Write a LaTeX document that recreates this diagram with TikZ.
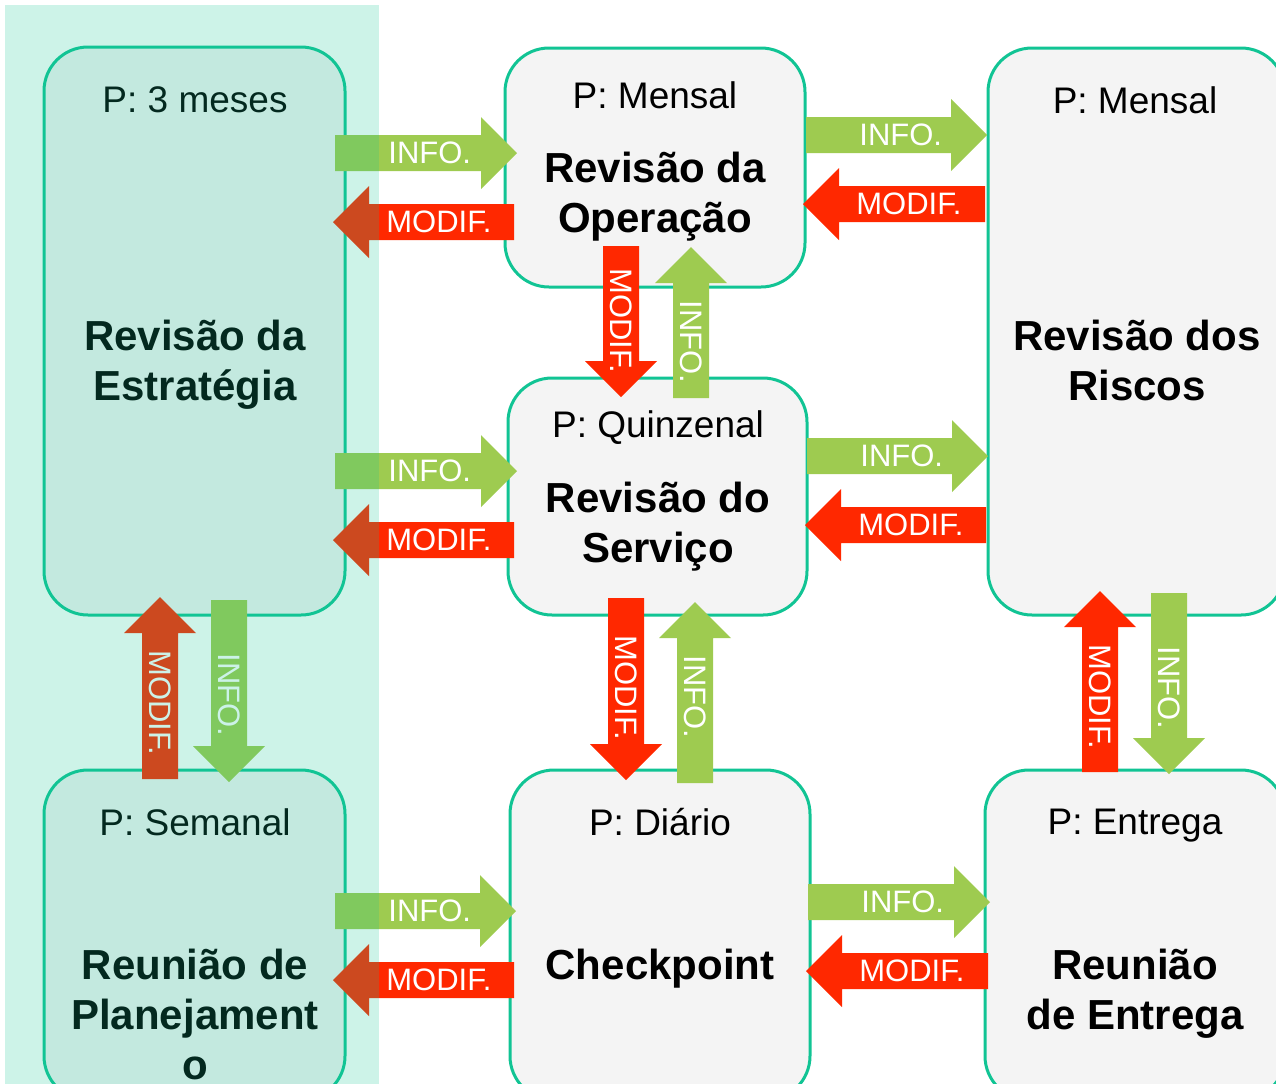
\documentclass[tikz,border=0pt]{standalone}
\usepackage{fontspec}
\setmainfont{Liberation Sans}
\usepackage{tikz}

\definecolor{tealline}{RGB}{17,196,148}
\definecolor{boxgray}{RGB}{244,244,244}
\definecolor{infogreen}{RGB}{158,203,80}
\definecolor{modifred}{RGB}{255,40,0}

\tikzset{
  meeting/.style={draw=tealline, line width=1.5pt, fill=boxgray, rounded corners=22pt, inner sep=0pt},
  period/.style={font=\fontsize{18.5}{22}\selectfont},
  title/.style={font=\bfseries\fontsize{21}{25}\selectfont, align=center},
  lbl/.style={text=white, inner sep=0pt, font=\fontsize{15.5}{18}\selectfont}
}

% horizontal block arrow: name, tail x, tip x, y, colour, text
\newcommand{\harrow}[6]{
  \pgfmathsetmacro{\arrdir}{(#3>#2)*2-1}
  \pgfmathsetmacro{\arrbase}{#3-\arrdir*36}
  \pgfmathsetmacro{\arrlbl}{min(#2,#3)+53}
  \fill[#5] (#2,#4-18) -- (\arrbase,#4-18) -- (\arrbase,#4-36) -- (#3,#4)
    -- (\arrbase,#4+36) -- (\arrbase,#4+18) -- (#2,#4+18) -- cycle;
  \node[lbl, anchor=west] (#1) at (\arrlbl,#4) {#6};
}
% vertical block arrow: [label offset] name, x, tail y, tip y, colour, text
\newcommand{\varrow}[7][53]{
  \pgfmathsetmacro{\arrdir}{(#5>#4)*2-1}
  \pgfmathsetmacro{\arrbase}{#5-\arrdir*36}
  \pgfmathsetmacro{\arrlbl}{min(#4,#5)+#1}
  \fill[#6] (#3-18,#4) -- (#3-18,\arrbase) -- (#3-36,\arrbase) -- (#3,#5)
    -- (#3+36,\arrbase) -- (#3+18,\arrbase) -- (#3+18,#4) -- cycle;
  \node[lbl, rotate=-90, anchor=west] (#2) at (#3,\arrlbl) {#7};
}

\begin{document}
\begin{tikzpicture}[x=0.5pt,y=-0.5pt]
\useasboundingbox (0,0) rectangle (1276,1083);
\clip (0,0) rectangle (1276,1083);
% meetings
\node[meeting, minimum width=150.5pt, minimum height=284pt] (est) at (194.5,331) {};
\node[meeting, minimum width=150pt, minimum height=119.5pt] (op) at (655,167.5) {};
\node[meeting, minimum width=148.5pt, minimum height=283.5pt] (risk) at (1136.5,331.5) {};
\node[meeting, minimum width=149.5pt, minimum height=118.5pt] (serv) at (657.5,496.5) {};
\node[meeting, minimum width=150.5pt, minimum height=165pt] (plan) at (194.5,935) {};
\node[meeting, minimum width=150pt, minimum height=165pt] (check) at (660,935) {};
\node[meeting, minimum width=150pt, minimum height=165pt] (ent) at (1135,935) {};
% texts
\node[period] (estP) at (195,100) {P: 3 meses};
\node[title] (estT) at (195,365) {Revisão da\\Estratégia};
\node[period] (opP) at (655,95) {P: Mensal};
\node[title] (opT) at (655,197) {Revisão da\\Operação};
\node[period] (riskP) at (1135,100) {P: Mensal};
\node[title] (riskT) at (1137,360) {Revisão dos\\Riscos};
\node[period] (servP) at (658,428) {P: Quinzenal};
\node[title] (servT) at (658,527) {Revisão do\\Serviço};
\node[period] (planP) at (195,822) {P: Semanal};
\node[title] (planT) at (195,1014) {Reunião de\\Planejament\\o};
\node[period] (checkP) at (660,822) {P: Diário};
\node[title] (checkT) at (660,969) {Checkpoint};
\node[period] (entP) at (1135,826) {P: Entrega};
\node[title] (entT) at (1135,994) {Reunião\\de Entrega};
% info / modif arrows
\harrow{ieo}{335}{517}{153}{infogreen}{INFO.}
\harrow{meo}{514}{333}{222}{modifred}{MODIF.}
\harrow{ior}{806}{987}{135}{infogreen}{INFO.}
\harrow{mor}{985}{803}{204}{modifred}{MODIF.}
\harrow{ies}{335}{517}{471}{infogreen}{INFO.}
\harrow{mes}{514}{333}{540}{modifred}{MODIF.}
\harrow{isr}{807}{988}{456}{infogreen}{INFO.}
\harrow{msr}{986}{805}{525}{modifred}{MODIF.}
\harrow{ipc}{335}{516}{911}{infogreen}{INFO.}
\harrow{mpc}{514}{333}{980}{modifred}{MODIF.}
\harrow{ice}{808}{990}{902}{infogreen}{INFO.}
\harrow{mce}{988}{806}{971}{modifred}{MODIF.}
\varrow[22]{mos}{621}{246}{397}{modifred}{MODIF.}
\varrow{ios}{691}{398}{247}{infogreen}{INFO.}
\varrow[37]{msc}{626}{598}{780}{modifred}{MODIF.}
\varrow{isc}{695}{783}{602}{infogreen}{INFO.}
\varrow{mpe}{160}{779}{597}{modifred}{MODIF.}
\varrow{iep}{229}{600}{782}{infogreen}{INFO.}
\varrow{mer}{1100}{772}{591}{modifred}{MODIF.}
\varrow{ire}{1169}{593}{774}{infogreen}{INFO.}
% strategic level highlight
\fill[tealline, opacity=0.21] (5,5) rectangle (379,1090);
\end{tikzpicture}
\end{document}
